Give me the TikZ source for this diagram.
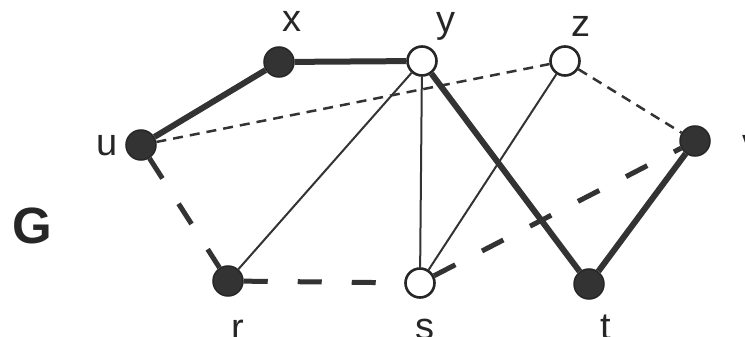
\documentclass[tikz,border=0pt]{standalone}
\usepackage{fontspec}
\setmainfont{Liberation Sans}
\begin{document}
\begin{tikzpicture}[x=1pt,y=-1pt,
  vfull/.style={circle,draw=black!85,fill=black!80,line width=1.5pt,minimum size=30pt,inner sep=0pt},
  vopen/.style={circle,draw=black!85,fill=white,line width=2.6pt,minimum size=29pt,inner sep=0pt},
  lbl/.style={anchor=base,font=\fontsize{38}{40}\selectfont,text=black!85,inner sep=0pt},
  thickedge/.style={draw=black!80,line width=6pt},
  thinedge/.style={draw=black!80,line width=2pt},
  thickdash/.style={draw=black!80,line width=5pt,dash pattern=on 24pt off 30pt},
  thindash/.style={draw=black!80,line width=2.5pt,dash pattern=on 10pt off 7pt}]
\useasboundingbox (0,0) rectangle (745,337);
\node[vfull] (x) at (279,62) {};
\node[vopen] (y) at (422,61) {};
\node[vopen] (z) at (565,61) {};
\node[vfull] (u) at (141,145) {};
\node[vfull] (v) at (695,141) {};
\node[vfull] (r) at (228,281) {};
\node[vopen] (s) at (420,283) {};
\node[vfull] (t) at (589,284) {};
\draw[thickedge] (u) -- (x);
\draw[thickedge] (x) -- (y);
\draw[thickedge] (y) -- (t);
\draw[thickedge] (t) -- (v);
\draw[thinedge] (r) -- (y);
\draw[thinedge] (y) -- (s);
\draw[thinedge] (s) -- (z);
\draw[thindash] (u) -- (z);
\draw[thindash] (z) -- (v);
\draw[thickdash] (u) -- (r);
\draw[thickdash] (r) -- (s);
\draw[thickdash] (s) -- (v);
\node[lbl] (lx) at (292,32) {x};
\node[lbl] (ly) at (446,33) {y};
\node[lbl] (lz) at (581,37) {z};
\node[lbl] (lu) at (107,155) {u};
\node[lbl] (lv) at (752,155) {v};
\node[lbl] (lr) at (238,340) {r};
\node[lbl] (ls) at (425,339) {s};
\node[lbl] (lt) at (606,339) {t};
\node[lbl,font=\bfseries\fontsize{51}{53}\selectfont] (G) at (32,243) {G};
\end{tikzpicture}
\end{document}
